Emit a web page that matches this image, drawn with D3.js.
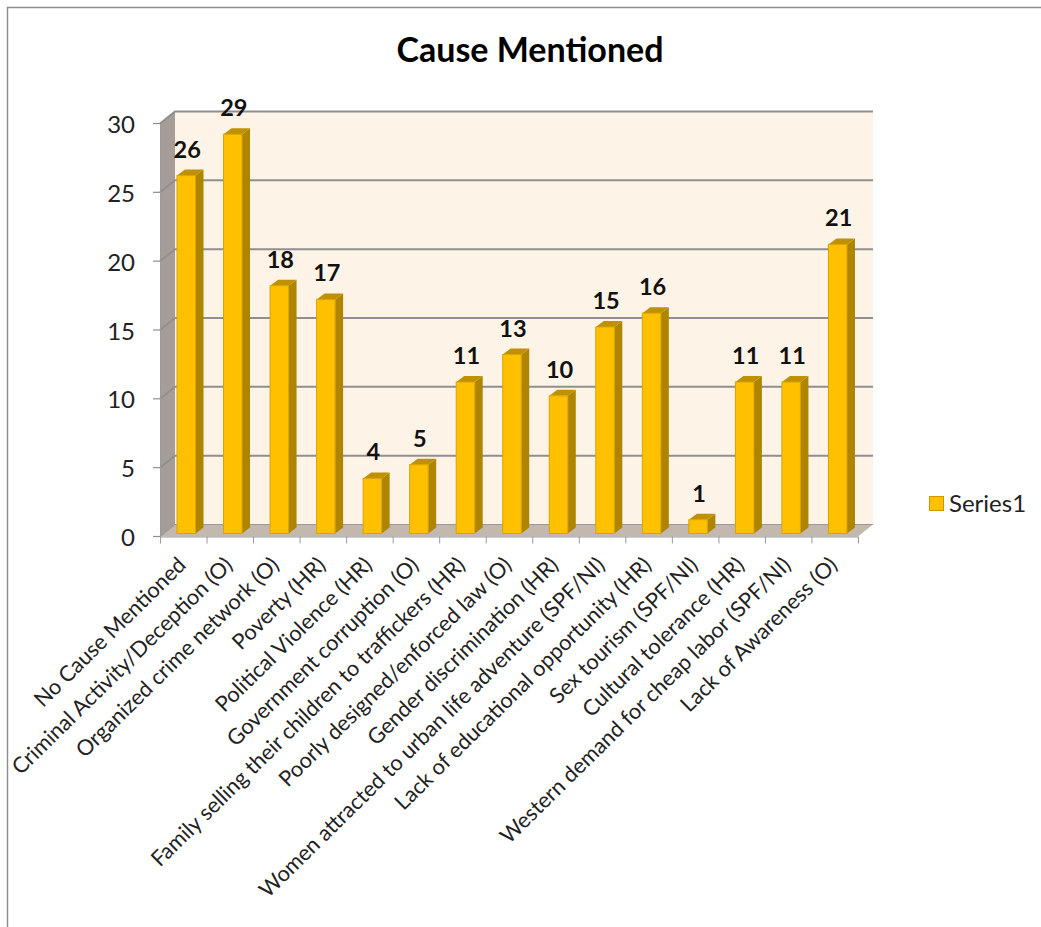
<!DOCTYPE html>
<html>
<head>
<meta charset="utf-8">
<script src="https://cdn.jsdelivr.net/npm/d3@7"></script>
<style>
html,body{margin:0;padding:0;background:#fff}
svg{display:block}
text{font-family:Lato,"Open Sans",sans-serif}
</style>
</head>
<body>
<script>
const categories = ["No Cause Mentioned","Criminal Activity/Deception (O)","Organized crime network (O)","Poverty (HR)","Political Violence (HR)","Government corruption (O)","Family selling their children to traffickers (HR)","Poorly designed/enforced law (O)","Gender discrimination (HR)","Women attracted to urban life adventure (SPF/NI)","Lack of educational opportunity (HR)","Sex tourism (SPF/NI)","Cultural tolerance (HR)","Western demand for cheap labor (SPF/NI)","Lack of Awareness (O)"];
const values = [26,29,18,17,4,5,11,13,10,15,16,1,11,11,21];
const yTicks = [0,5,10,15,20,25,30];
const seriesName = "Series1";
const chartTitle = "Cause Mentioned";

const W = 1041, H = 927;
const svg = d3.select("body").append("svg").attr("width",W).attr("height",H);

// 3D box: front plane plus a depth offset to the back wall
const x = d3.scaleBand().domain(categories).range([160,858]).paddingInner(0).paddingOuter(0);
const y = d3.scaleLinear().domain([0,30]).range([536.5,123.5]);
const depth = {dx:15, dy:-12};
const barDepth = {dx:8, dy:-6};
const barWidth = 18.5, barOffset = 17, barLift = 3;

// chart frame: left and top edges only
svg.append("path").attr("d",`M7.5,927V7.5H1041`).attr("fill","none").attr("stroke","#8c8c8c").attr("stroke-width",1.4);

// back wall, side wall, floor
const xL = x.range()[0], xR = x.range()[1];
const y0 = y(0), yT = y(30);
svg.append("rect").attr("x",xL+depth.dx).attr("y",yT+depth.dy).attr("width",xR-xL).attr("height",y0-yT)
  .attr("fill","#fdf3e6");
svg.append("path").attr("d",`M${xL},${y0}L${xL+depth.dx},${y0+depth.dy}V${yT+depth.dy}L${xL},${yT}Z`).attr("fill","#a69d98");
svg.append("path").attr("d",`M${xL},${y0}L${xL+depth.dx},${y0+depth.dy}H${xR+depth.dx}L${xR},${y0}Z`).attr("fill","#c2b8ae");

// gridlines across the back wall and down the side wall
yTicks.forEach(t=>{
  const yy=y(t);
  const g=svg.append("path").attr("fill","none").attr("stroke","#8f8f8f").attr("stroke-width",t===0?1.2:2)
    .attr("d",`M${xL},${yy}L${xL+depth.dx},${yy+depth.dy}H${xR+depth.dx}`);
  if(t===0) g.attr("stroke","#9a9a9a");
});

// value axis
svg.append("path").attr("d",`M${xL+.5},${yT}V${y0}`).attr("stroke","#9a9a9a").attr("fill","none");
svg.append("g").selectAll("line").data(yTicks).join("line")
  .attr("x1",xL-7).attr("x2",xL).attr("y1",d=>y(d)).attr("y2",d=>y(d)).attr("stroke","#8f8f8f").attr("stroke-width",1.2);
svg.append("g").selectAll("text").data(yTicks).join("text")
  .attr("x",xL-25).attr("y",d=>y(d)+9.5).attr("text-anchor","end")
  .attr("font-size",24).attr("fill","#222").text(d=>d);

// category axis
svg.append("path").attr("d",`M${xL},${y0+.5}H${xR}`).attr("stroke","#9a9a9a").attr("fill","none");
const xEdges = d3.range(categories.length+1).map(i=>xL+i*x.step());
svg.append("g").selectAll("line").data(xEdges).join("line")
  .attr("x1",d=>d+.5).attr("x2",d=>d+.5).attr("y1",y0).attr("y2",y0+7).attr("stroke","#9a9a9a");

// bars: side face, top face, front face
const bars = svg.append("g").selectAll("g").data(categories.map((c,i)=>({c,v:values[i]}))).join("g");
const fx = d=>x(d.c)+barOffset, fy = d=>y(d.v)-barLift, fb = y0-barLift;
bars.append("path").attr("fill","#ae8400").attr("d",d=>
  `M${fx(d)+barWidth},${fy(d)}l${barDepth.dx},${barDepth.dy}V${fb+barDepth.dy}l${-barDepth.dx},${-barDepth.dy}Z`);
bars.append("path").attr("fill","#bf9100").attr("d",d=>
  `M${fx(d)},${fy(d)}l${barDepth.dx},${barDepth.dy}h${barWidth}l${-barDepth.dx},${-barDepth.dy}Z`);
bars.append("rect").attr("x",fx).attr("y",fy).attr("width",barWidth).attr("height",d=>fb-fy(d))
  .attr("fill","#ffc000").attr("stroke","#d9a300").attr("stroke-width",1);

// value labels
bars.append("text").attr("x",d=>fx(d)+barWidth/2+1).attr("y",d=>fy(d)-18)
  .attr("text-anchor","middle").attr("font-size",23.5).attr("font-weight",700).attr("fill","#111").text(d=>d.v);

// slanted category labels
svg.append("g").selectAll("text").data(categories).join("text")
  .attr("text-anchor","end").attr("font-size",21.7).attr("fill","#222")
  .attr("transform",c=>`translate(${x(c)+x.bandwidth()/2+4},${y0+30}) rotate(-44.5)`)
  .text(c=>c);

// title
svg.append("text").attr("x",530).attr("y",62).attr("text-anchor","middle")
  .attr("font-size",34).attr("font-weight",700).attr("fill","#000").text(chartTitle);

// legend
svg.append("rect").attr("x",929.5).attr("y",496.5).attr("width",14).attr("height",14)
  .attr("fill","#ffc000").attr("stroke","#c89a00");
svg.append("text").attr("x",949).attr("y",512).attr("font-size",24).attr("fill","#222").text(seriesName);
</script>
</body>
</html>
